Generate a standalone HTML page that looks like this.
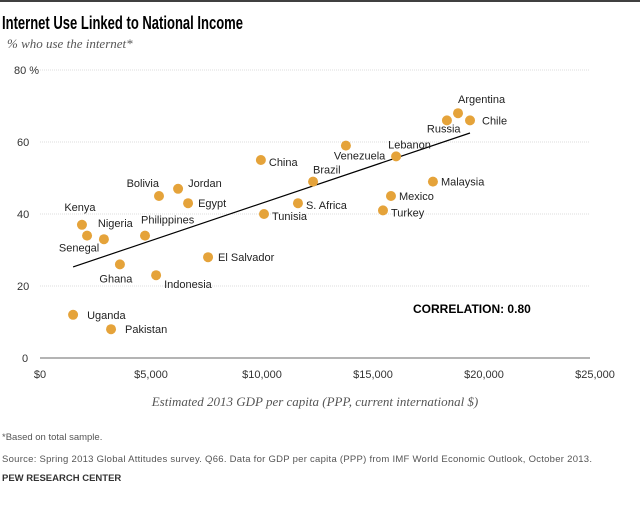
<!DOCTYPE html>
<html><head><meta charset="utf-8"><style>
body{margin:0;background:#fff;width:640px;height:500px;overflow:hidden;font-family:"Liberation Sans",sans-serif;}
</style></head><body>
<svg width="640" height="500" xmlns="http://www.w3.org/2000/svg">
<line x1="0" y1="1" x2="640" y2="1" stroke="#000" stroke-width="1.5"/>
<text x="2" y="29" font-size="18" font-weight="bold" fill="#000" textLength="241" lengthAdjust="spacingAndGlyphs">Internet Use Linked to National Income</text>
<text x="7" y="48" font-size="13" font-style="italic" fill="#555" font-family="Liberation Serif,serif">% who use the internet*</text>
<g id="grid"></g>
<line id="trend" stroke="#000" stroke-width="1.2"/>
<g id="pts"></g>
<text x="413" y="313" font-size="12" font-weight="bold" fill="#000">CORRELATION:  0.80</text>
<text x="315" y="406" font-size="13" font-style="italic" fill="#555" font-family="Liberation Serif,serif" text-anchor="middle">Estimated 2013 GDP per capita (PPP, current international $)</text>
<text x="2" y="440" font-size="9.5" fill="#555">*Based on total sample.</text>
<text x="2" y="462" font-size="9.5" fill="#555" textLength="590">Source: Spring 2013 Global Attitudes survey. Q66. Data for GDP per capita (PPP) from IMF World Economic Outlook, October 2013.</text>
<text x="2" y="481" font-size="9.5" font-weight="bold" fill="#333">PEW RESEARCH CENTER</text>
</svg>
<script>
const countries=["Argentina","Russia","Chile","Lebanon","Venezuela","China","Brazil","Malaysia","Mexico","Turkey","S. Africa","Tunisia","Bolivia","Jordan","Egypt","Philippines","El Salvador","Indonesia","Ghana","Kenya","Nigeria","Senegal","Uganda","Pakistan"];
const gdp=[18830,18330,19370,16040,13780,9950,12300,17700,15810,15450,11620,10090,5360,6220,6670,4730,7570,5230,3600,1890,2880,2120,1490,3200];
const internet=[68,66,66,56,59,55,49,49,45,41,43,40,45,47,43,34,28,23,26,37,33,34,12,8];
const yTicks=[0,20,40,60,80];
const xTicks=[0,5000,10000,15000,20000,25000];
const xTickLabels=["$0","$5,000","$10,000","$15,000","$20,000","$25,000"];
const trendX=[1490,19370];
const trendY=[25.3,62.5];
const lab={"Argentina":[0,-10,"start"],"Russia":[-20,12,"start"],"Chile":[12,4,"start"],"Lebanon":[-8,-8,"start"],"Venezuela":[-12,14,"start"],"China":[8,6,"start"],"Brazil":[0,-8,"start"],"Malaysia":[8,4,"start"],"Mexico":[8,4,"start"],"Turkey":[8,6,"start"],"S. Africa":[8,6,"start"],"Tunisia":[8,6,"start"],"Bolivia":[0,-9,"end"],"Jordan":[10,-2,"start"],"Egypt":[10,4,"start"],"Philippines":[-4,-12,"start"],"El Salvador":[10,4,"start"],"Indonesia":[8,13,"start"],"Ghana":[-4,18,"middle"],"Kenya":[-2,-14,"middle"],"Nigeria":[-6,-12,"start"],"Senegal":[-8,16,"middle"],"Uganda":[14,4,"start"],"Pakistan":[14,4,"start"]};
const X=v=>40+v/25000*555, Y=v=>358-v*3.6;
const NS="http://www.w3.org/2000/svg";
function mk(t,a,p){const e=document.createElementNS(NS,t);for(const k in a)e.setAttribute(k,a[k]);p.appendChild(e);return e;}
const g=document.getElementById('grid');
yTicks.forEach(v=>{
 const l=mk('line',{x1:40,x2:590,y1:Y(v),y2:Y(v),stroke:v===0?'#888':'#ddd','stroke-width':v===0?1.2:1,'stroke-dasharray':v===0?'':'1,1'},g);
 
 
 const t=mk('text',{x:v===80?14:(v===0?22:17),y:Y(v)+4,'font-size':11,fill:'#333'},g);
 t.textContent=v===80?'80  %':String(v);
 
 
});
xTicks.forEach((v,i)=>{
 const t=mk('text',{x:X(v),y:378,'font-size':11,fill:'#333','text-anchor':'middle'},g);
 t.textContent=xTickLabels[i];
 
 
});
const tr=document.getElementById('trend');
tr.setAttribute('x1',X(trendX[0]));tr.setAttribute('y1',Y(trendY[0]));
tr.setAttribute('x2',X(trendX[1]));tr.setAttribute('y2',Y(trendY[1]));
const p=document.getElementById('pts');
countries.forEach((c,i)=>{
 const cx=X(gdp[i]),cy=Y(internet[i]);
 const d=mk('circle',{cx:cx,cy:cy,r:5,fill:'#e5a33a'},p);
 
 
 const o=lab[c];
 const t=mk('text',{x:cx+o[0],y:cy+o[1],'font-size':11,fill:'#222','text-anchor':o[2]},p);
 t.textContent=c;
 
 
});
</script>
</body></html>
